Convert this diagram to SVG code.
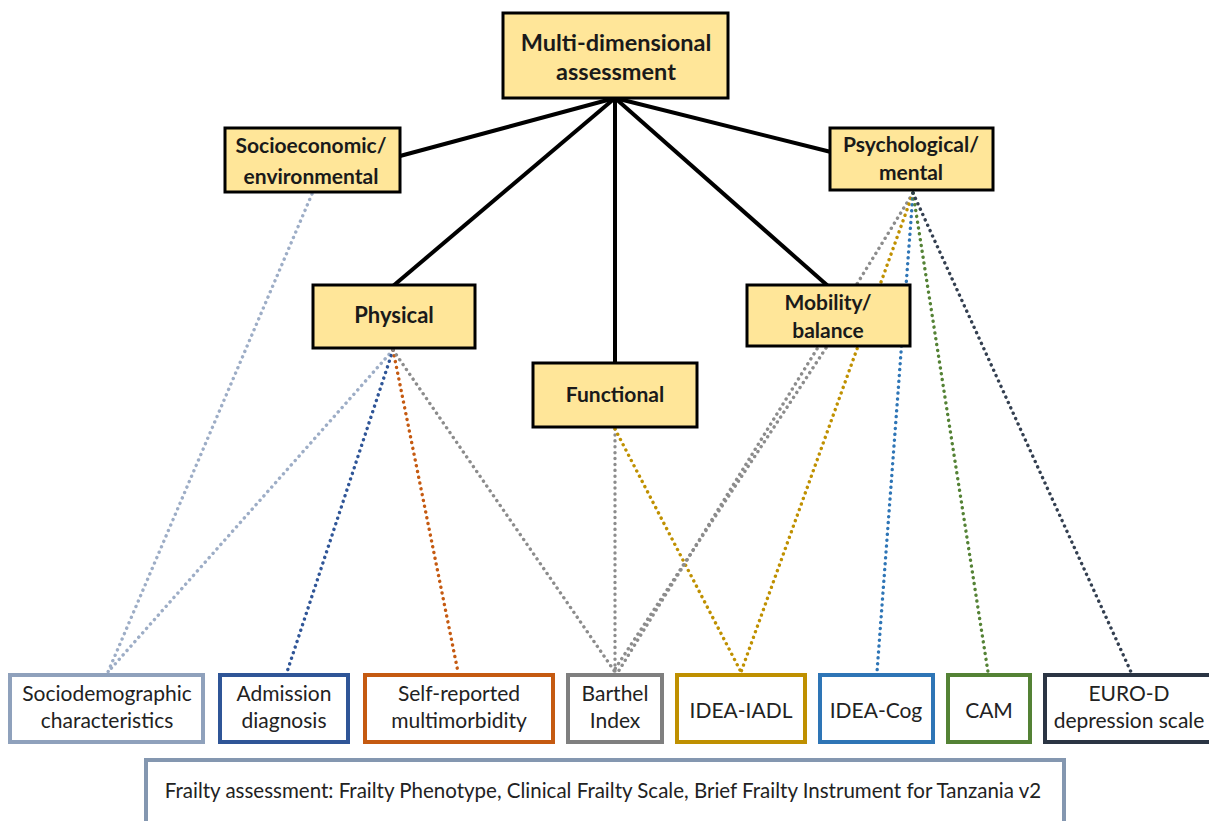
<svg xmlns="http://www.w3.org/2000/svg" width="1209" height="821" viewBox="0 0 1209 821">
<style>
.hb{fill:#FFE699;stroke:#000;stroke-width:3}
.bt{font-family:Lato,"Liberation Sans",sans-serif;font-weight:bold;font-size:21px;fill:#1a1a1a;text-anchor:middle}
.lt{font-family:Lato,"Liberation Sans",sans-serif;font-size:21px;fill:#222;text-anchor:middle}
.bx{fill:#fff;stroke-width:4}
.solid{stroke:#000;stroke-width:4;fill:none}
.dot{fill:none;stroke-width:3.4;stroke-dasharray:0.1 5.8;stroke-linecap:round}
</style>
<rect width="1209" height="821" fill="#fff"/>
<g id="connectors">
<g class="solid">
<line x1="615" y1="98" x2="400" y2="156"/>
<line x1="615" y1="98" x2="393" y2="286"/>
<line x1="615" y1="98" x2="615" y2="364"/>
<line x1="615" y1="98" x2="828" y2="286"/>
<line x1="615" y1="98" x2="831" y2="152"/>
</g>
<g class="dot">
<line x1="312" y1="194" x2="108" y2="672" stroke="#9DADC6"/>
<line x1="393" y1="350" x2="108" y2="672" stroke="#9DADC6"/>
<line x1="393" y1="350" x2="287" y2="672" stroke="#2F5597"/>
<line x1="393" y1="350" x2="458" y2="672" stroke="#C55A11"/>
<line x1="393" y1="350" x2="615" y2="672" stroke="#8C8C8C"/>
<line x1="615" y1="429" x2="615" y2="672" stroke="#8C8C8C"/>
<line x1="615" y1="429" x2="741" y2="672" stroke="#BF9000"/>
<line x1="826" y1="348" x2="613" y2="672" stroke="#8C8C8C"/>
<line x1="913" y1="193" x2="618" y2="672" stroke="#8C8C8C"/>
<line x1="913" y1="193" x2="741" y2="672" stroke="#BF9000"/>
<line x1="913" y1="193" x2="877" y2="672" stroke="#2E75B6"/>
<line x1="913" y1="193" x2="988" y2="672" stroke="#548235"/>
<line x1="913" y1="193" x2="1131" y2="672" stroke="#333F50"/>
</g>
</g>
<g id="n-multi"><rect class="hb" x="503" y="13" width="225" height="85"/><text class="bt" x="616" y="51" style="font-size:23.5px">Multi-dimensional</text><text class="bt" x="616" y="80" style="font-size:23.5px">assessment</text></g>
<g id="n-socio"><rect class="hb" x="225" y="128" width="175" height="64"/><text class="bt" x="311" y="153">Socioeconomic/</text><text class="bt" x="311" y="184">environmental</text></g>
<g id="n-psych"><rect class="hb" x="830" y="128" width="163" height="62"/><text class="bt" x="911" y="152">Psychological/</text><text class="bt" x="911" y="180">mental</text></g>
<g id="n-physical"><rect class="hb" x="313" y="285" width="162" height="63"/><text class="bt" x="394" y="323" style="font-size:22px">Physical</text></g>
<g id="n-mobility"><rect class="hb" x="747" y="285" width="163" height="61"/><text class="bt" x="828" y="310">Mobility/</text><text class="bt" x="828" y="338">balance</text></g>
<g id="n-functional"><rect class="hb" x="533" y="363" width="164" height="64"/><text class="bt" x="615" y="402">Functional</text></g>
<g id="n-sociodem"><rect class="bx" x="10" y="675" width="193" height="67" stroke="#8FA1BC"/><text class="lt" x="107" y="701">Sociodemographic</text><text class="lt" x="107" y="728">characteristics</text></g>
<g id="n-admission"><rect class="bx" x="220" y="675" width="128" height="67" stroke="#2F5597"/><text class="lt" x="284" y="701">Admission</text><text class="lt" x="284" y="728">diagnosis</text></g>
<g id="n-selfrep"><rect class="bx" x="365" y="675" width="188" height="67" stroke="#C55A11"/><text class="lt" x="459" y="701">Self-reported</text><text class="lt" x="459" y="728">multimorbidity</text></g>
<g id="n-barthel"><rect class="bx" x="568" y="675" width="94" height="67" stroke="#7F7F7F"/><text class="lt" x="615" y="701">Barthel</text><text class="lt" x="615" y="728">Index</text></g>
<g id="n-iadl"><rect class="bx" x="677" y="675" width="128" height="67" stroke="#BF9000"/><text class="lt" x="741" y="718">IDEA-IADL</text></g>
<g id="n-cog"><rect class="bx" x="820" y="675" width="113" height="67" stroke="#2E75B6"/><text class="lt" x="876" y="718">IDEA-Cog</text></g>
<g id="n-cam"><rect class="bx" x="948" y="675" width="82" height="67" stroke="#548235"/><text class="lt" x="989" y="718">CAM</text></g>
<g id="n-eurod"><rect class="bx" x="1045" y="675" width="172" height="67" stroke="#2B3544"/><text class="lt" x="1129" y="701">EURO-D</text><text class="lt" x="1129" y="728">depression scale</text></g>
<g id="n-frailty"><rect class="bx" x="146" y="760" width="918" height="66" stroke="#8497B0"/><text class="lt" x="603" y="798" style="font-size:20.5px">Frailty assessment: Frailty Phenotype, Clinical Frailty Scale, Brief Frailty Instrument for Tanzania v2</text></g>
</svg>
